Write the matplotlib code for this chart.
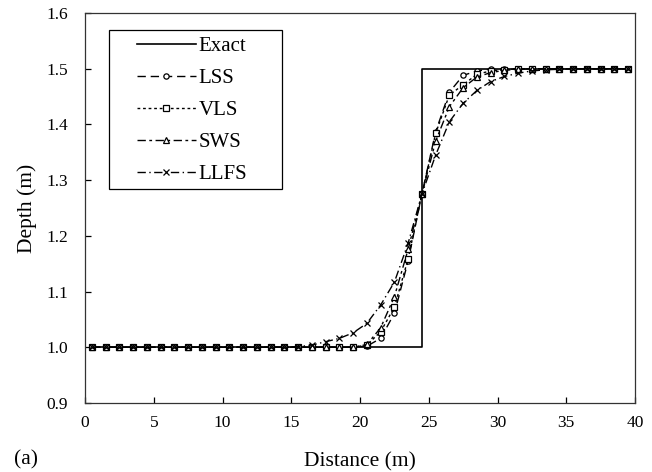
import matplotlib
matplotlib.use("Agg")
import matplotlib.pyplot as plt
from matplotlib.patches import Rectangle
import numpy as np

plt.rcParams["font.family"] = ["Liberation Serif", "DejaVu Serif"]

# Data: nodes every 1 m from 0.5 to 39.5
x = np.arange(0.5, 40.0, 1.0)

flat = [1.0] * 15  # x = 0.5 .. 14.5

lss = flat + [1.0, 1.0, 1.0, 1.0, 1.0, 1.002, 1.016, 1.061, 1.155, 1.275,
              1.387, 1.458, 1.488, 1.496, 1.499, 1.5, 1.5, 1.5, 1.5, 1.5,
              1.5, 1.5, 1.5, 1.5, 1.5]
vls = flat + [1.0, 1.0, 1.0, 1.0, 1.0, 1.004, 1.028, 1.072, 1.159, 1.275,
              1.384, 1.453, 1.471, 1.490, 1.496, 1.498, 1.5, 1.5, 1.5, 1.5,
              1.5, 1.5, 1.5, 1.5, 1.5]
sws = flat + [1.0, 1.0, 1.0, 1.0, 1.0, 1.005, 1.035, 1.091, 1.176, 1.275,
              1.370, 1.432, 1.466, 1.485, 1.493, 1.497, 1.499, 1.5, 1.5, 1.5,
              1.5, 1.5, 1.5, 1.5, 1.5]
llfs = flat + [1.001, 1.004, 1.010, 1.016, 1.026, 1.043, 1.076, 1.117, 1.187, 1.275,
               1.345, 1.405, 1.438, 1.461, 1.477, 1.486, 1.492, 1.496, 1.498, 1.499,
               1.5, 1.5, 1.5, 1.5, 1.5]

exact_x = [0.5, 24.5, 24.5, 39.5]
exact_y = [1.0, 1.0, 1.5, 1.5]

fig = plt.figure(figsize=(6.52, 4.72), dpi=100)
ax = fig.add_axes([0.1304, 0.1462, 0.8436, 0.8263])

ax.plot(exact_x, exact_y, color="black", lw=1.2, label="Exact")
ax.plot(x, lss, color="black", lw=1.0, dashes=(6, 3.5), marker="o", ms=3.8,
        mfc="white", mec="black", mew=0.9, label="LSS")
ax.plot(x, vls, color="black", lw=1.0, dashes=(2, 2), marker="s", ms=3.8,
        mfc="white", mec="black", mew=0.9, label="VLS")
ax.plot(x, sws, color="black", lw=1.0, dashes=(6, 2.5, 2, 2.5), marker="^", ms=3.8,
        mfc="white", mec="black", mew=0.9, label="SWS")
ax.plot(x, llfs, color="black", lw=1.0, dashes=(6, 2.5, 1, 2.5), marker="x", ms=4.8,
        mec="black", mew=0.9, label="LLFS")

ax.set_xlim(0, 40)
ax.set_ylim(0.9, 1.6)
ax.set_xticks(np.arange(0, 41, 5))
ax.set_yticks(np.arange(0.9, 1.61, 0.1))
ax.set_yticklabels([f"{v:.1f}" for v in np.arange(0.9, 1.61, 0.1)])
ax.tick_params(direction="in", length=4, width=0.9, labelsize=12.5,
               top=False, right=False)
ax.tick_params(axis="y", pad=12)
ax.tick_params(axis="x", pad=9)
for s in ax.spines.values():
    s.set_color("#333333")
    s.set_linewidth(0.9)

ax.set_xlabel("Distance (m)", fontsize=15.5, labelpad=15)
ax.set_ylabel("Depth (m)", fontsize=15.5, labelpad=7)
fig.text(0.04, 0.026, "(a)", fontsize=15.5, ha="center", va="center")

# legend box drawn separately (wide side padding, tight top/bottom)
ax.add_patch(Rectangle((0.0436, 0.549), 0.3145, 0.407, transform=ax.transAxes,
                       fill=True, facecolor="white", edgecolor="black", lw=0.9,
                       zorder=4))
leg = ax.legend(loc="upper left", bbox_to_anchor=(0.095, 0.94), borderaxespad=0,
                frameon=False, fontsize=15, handlelength=2.8, handletextpad=0.15,
                labelspacing=0.6, numpoints=1, borderpad=0)
leg.set_zorder(5)

fig.savefig("out.png", dpi=100)
